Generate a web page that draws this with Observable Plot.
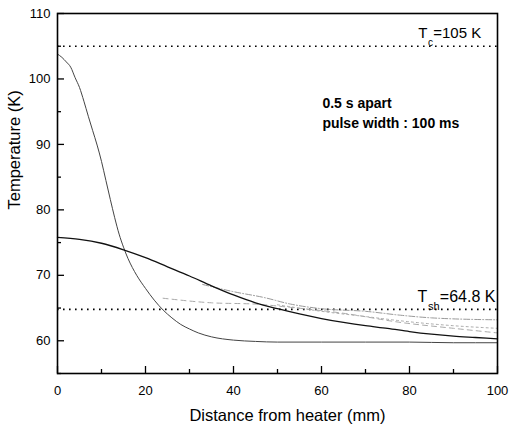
<!DOCTYPE html>
<html><head><meta charset="utf-8">
<script src="https://cdn.jsdelivr.net/npm/d3@7"></script>
<script src="https://cdn.jsdelivr.net/npm/@observablehq/plot@0.6"></script>
<style>body{margin:0;background:#fff} #chart svg{display:block}</style>
</head><body><div id="chart"></div>
<script>
// ---- data ----
const xTicksMajor = [0, 20, 40, 60, 80, 100];
const xTicksMinor = [10, 30, 50, 70, 90];
const yTicksMajor = [60, 70, 80, 90, 100, 110];
const yTicksMinor = [55, 65, 75, 85, 95, 105];

const steepX = [0,1,2,3,4,5,6,7,8,9,10,11,12,13,14,15,16,17,18,20,22,24,26,28,30,32,35,40,45,50,60,70,80,90,100];
const steepY = [103.8,103.3,102.6,101.8,100.2,98.7,96.6,94.3,92.1,89.9,87.4,84.5,81.6,78.8,76.3,74.3,72.6,71.2,70.0,68.0,66.2,64.7,63.5,62.5,61.8,61.2,60.6,60.1,59.9,59.8,59.8,59.8,59.8,59.7,59.7];

const solidX = [0,5,10,15,20,25,30,35,40,45,50,55,60,65,70,75,80,85,90,95,100];
const solidY = [75.8,75.5,74.9,73.9,72.7,71.3,69.9,68.4,67.0,65.8,64.9,64.1,63.4,62.8,62.3,61.9,61.4,61.0,60.7,60.5,60.3];

const grey1X = [33,40,47,53,60,70,78,85,100];
const grey1Y = [68.6,67.5,66.6,65.6,64.9,64.5,63.9,63.5,63.2];
const grey2X = [24,35,45,53,65,78,90,100];
const grey2Y = [66.5,65.8,65.6,65.1,64.2,62.8,61.9,61.2];
const grey3X = [50,60,70,80,90,100];
const grey3Y = [65.5,64.5,63.7,62.9,62.3,61.9];

const Tc = 105;
const Tsh = 64.8;
const xLabel = "Distance from heater (mm)";
const yLabel = "Temperature (K)";
const note1 = "0.5 s apart";
const note2 = "pulse width : 100 ms";

// ---- build tables ----
const zip = (xs, ys) => xs.map((x, i) => ({x, y: ys[i]}));
const steep = zip(steepX, steepY);
const solid = zip(solidX, solidY);
const grey1 = zip(grey1X, grey1Y);
const grey2 = zip(grey2X, grey2Y);
const grey3 = zip(grey3X, grey3Y);
const limits = [{y: Tc}, {y: Tsh}];

const font = "'Liberation Sans', Arial, Helvetica, sans-serif";

const chart = Plot.plot({
  width: 509,
  height: 433,
  marginLeft: 57,
  marginRight: 12,
  marginTop: 13,
  marginBottom: 60,
  style: {fontFamily: font, background: "#fff", color: "#000"},
  x: {domain: [0, 100]},
  y: {domain: [55, 110]},
  marks: [
    // reference dotted lines
    Plot.ruleY(limits, {y: "y", stroke: "#000", strokeWidth: 1.6, strokeDasharray: "1.6,4.4"}),
    // faint grey curves
    Plot.line(grey1, {x: "x", y: "y", stroke: "#999", strokeWidth: 1, strokeDasharray: "6,2,1,2", curve: "monotone-x"}),
    Plot.line(grey2, {x: "x", y: "y", stroke: "#aaa", strokeWidth: 1, strokeDasharray: "5,4", curve: "monotone-x"}),
    Plot.line(grey3, {x: "x", y: "y", stroke: "#aaa", strokeWidth: 1, strokeDasharray: "2,3", curve: "monotone-x"}),
    // main curves
    Plot.line(steep, {x: "x", y: "y", stroke: "#444", strokeWidth: 1, curve: "monotone-x"}),
    Plot.line(solid, {x: "x", y: "y", stroke: "#111", strokeWidth: 1.3, curve: "monotone-x"}),
    // frame
    Plot.frame({stroke: "#000", strokeWidth: 1.6}),
    // inward ticks
    Plot.axisX({ticks: xTicksMajor, tickSize: -7, tickFormat: () => "", label: null, strokeWidth: 1.3}),
    Plot.axisX({ticks: xTicksMinor, tickSize: -4, tickFormat: () => "", label: null, strokeWidth: 1.3}),
    Plot.axisY({ticks: yTicksMajor, tickSize: -7, tickFormat: () => "", label: null, strokeWidth: 1.3}),
    Plot.axisY({ticks: yTicksMinor, tickSize: -4, tickFormat: () => "", label: null, strokeWidth: 1.3}),
    // tick labels
    Plot.axisX({ticks: xTicksMajor, tickSize: 0, tickPadding: 12, fontSize: 13, label: null}),
    Plot.axisY({ticks: yTicksMajor, tickSize: 0, tickPadding: 7, fontSize: 13, label: null}),
    // axis titles
    Plot.text([xLabel], {frameAnchor: "bottom", dy: 47, dx: 10, fontSize: 16.5, fill: "#000"}),
    Plot.text([yLabel], {frameAnchor: "left", rotate: -90, dx: -43, dy: 16, fontSize: 16.5, fill: "#000"}),
    // annotations
    Plot.text([note1], {x: 60.2, y: 96.3, textAnchor: "start", fontSize: 14, fontWeight: "bold", fill: "#000"}),
    Plot.text([note2], {x: 60.2, y: 93.2, textAnchor: "start", fontSize: 14, fontWeight: "bold", fill: "#000"}),
    Plot.text(["T"], {x: 82.0, y: 106.3, textAnchor: "start", lineAnchor: "bottom", fontSize: 15, fill: "#000"}),
    Plot.text(["c"], {x: 84.2, y: 105.1, textAnchor: "start", lineAnchor: "bottom", fontSize: 10, fill: "#000"}),
    Plot.text(["=105 K"], {x: 85.4, y: 106.3, textAnchor: "start", lineAnchor: "bottom", fontSize: 15, fill: "#000"}),
    Plot.text(["T"], {x: 81.8, y: 65.95, textAnchor: "start", lineAnchor: "bottom", fontSize: 16, fill: "#000"}),
    Plot.text(["sh"], {x: 84.2, y: 64.7, textAnchor: "start", lineAnchor: "bottom", fontSize: 11, fill: "#000"}),
    Plot.text(["=64.8 K"], {x: 86.9, y: 65.95, textAnchor: "start", lineAnchor: "bottom", fontSize: 16, fill: "#000"})
  ]
});
document.getElementById("chart").appendChild(chart);
</script>
</body></html>
